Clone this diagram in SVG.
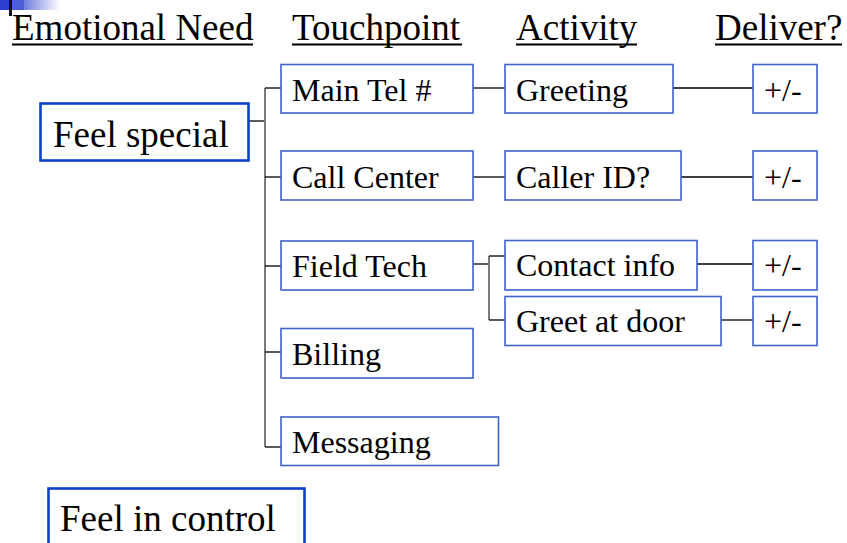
<svg xmlns="http://www.w3.org/2000/svg" width="847" height="543" viewBox="0 0 847 543">
<defs>
<linearGradient id="lg" x1="0" y1="0" x2="1" y2="0">
<stop offset="0" stop-color="#6f7fe0"/>
<stop offset="1" stop-color="#ffffff"/>
</linearGradient>
<style>
text{font-family:"Liberation Serif","Times New Roman",serif;fill:#000}
.h{font-size:37px}
.big{font-size:37px}
.t{font-size:32px}
.box{fill:#fff;stroke:#3f62c8;stroke-width:1.6}
.main{fill:#fff;stroke:#0a3fcf;stroke-width:2.6}
.c{stroke:#000;stroke-width:1.3;fill:none}
.v{stroke:#7a7a7a;stroke-width:2;fill:none}
.u{stroke:#000;stroke-width:2}
</style>
</defs>
<g id="logo">
<rect x="0" y="0" width="12" height="10" fill="#2b3fd0"/>
<rect x="12" y="0" width="12" height="10" fill="#4c5fd8"/>
<rect x="24" y="0" width="36" height="10" fill="url(#lg)"/>
<rect x="9" y="0" width="3" height="16" fill="#111"/>
</g>
<g id="headers">
<text class="h" x="12" y="40">Emotional Need</text>
<line class="u" x1="12" y1="44.5" x2="253" y2="44.5"/>
<text class="h" x="292" y="40">Touchpoint</text>
<line class="u" x1="292" y1="44.5" x2="462" y2="44.5"/>
<text class="h" x="516" y="40">Activity</text>
<line class="u" x1="516" y1="44.5" x2="637" y2="44.5"/>
<text class="h" x="715" y="40">Deliver?</text>
<line class="u" x1="715" y1="44.5" x2="842" y2="44.5"/>
</g>
<g id="connectors">
<line class="c" x1="249" y1="121" x2="265" y2="121"/>
<line class="v" x1="265" y1="88" x2="265" y2="447"/>
<line class="c" x1="265" y1="88" x2="281" y2="88"/>
<line class="c" x1="265" y1="177" x2="281" y2="177"/>
<line class="c" x1="265" y1="266" x2="281" y2="266"/>
<line class="c" x1="265" y1="352" x2="281" y2="352"/>
<line class="c" x1="265" y1="447" x2="281" y2="447"/>
<line class="c" x1="473" y1="88" x2="505" y2="88"/>
<line class="c" x1="473" y1="177" x2="505" y2="177"/>
<line class="c" x1="473" y1="264" x2="489" y2="264"/>
<line class="v" x1="489" y1="256" x2="489" y2="320"/>
<line class="c" x1="489" y1="256" x2="505" y2="256"/>
<line class="c" x1="489" y1="320" x2="505" y2="320"/>
<line class="c" x1="673" y1="88" x2="753" y2="88"/>
<line class="c" x1="681" y1="177" x2="753" y2="177"/>
<line class="c" x1="697" y1="264" x2="753" y2="264"/>
<line class="c" x1="721" y1="320" x2="753" y2="320"/>
</g>
<g id="feel-special">
<rect class="main" x="40.5" y="103.5" width="208" height="57"/>
<text class="big" x="53" y="147">Feel special</text>
</g>
<g id="main-tel">
<rect class="box" x="281" y="64.5" width="192" height="48.5"/>
<text class="t" x="292" y="101">Main Tel #</text>
</g>
<g id="call-center">
<rect class="box" x="281" y="151" width="192" height="49"/>
<text class="t" x="292" y="188">Call Center</text>
</g>
<g id="field-tech">
<rect class="box" x="281" y="241" width="192" height="49"/>
<text class="t" x="292" y="277">Field Tech</text>
</g>
<g id="billing">
<rect class="box" x="281" y="328.5" width="192" height="49.5"/>
<text class="t" x="292" y="365">Billing</text>
</g>
<g id="messaging">
<rect class="box" x="281" y="417" width="217.5" height="48.5"/>
<text class="t" x="292" y="453">Messaging</text>
</g>
<g id="greeting">
<rect class="box" x="505" y="64.5" width="168" height="48.5"/>
<text class="t" x="516" y="101">Greeting</text>
</g>
<g id="caller-id">
<rect class="box" x="505" y="151" width="176" height="49"/>
<text class="t" x="516" y="188">Caller ID?</text>
</g>
<g id="contact-info">
<rect class="box" x="505" y="240.5" width="192" height="49.5"/>
<text class="t" x="516" y="276">Contact info</text>
</g>
<g id="greet-at-door">
<rect class="box" x="505" y="296.5" width="216" height="49"/>
<text class="t" x="516" y="332">Greet at door</text>
</g>
<g id="deliver-1">
<rect class="box" x="753" y="64.5" width="64" height="48.5"/>
<text class="t" x="764" y="101">+/-</text>
</g>
<g id="deliver-2">
<rect class="box" x="753" y="151" width="64" height="49"/>
<text class="t" x="764" y="188">+/-</text>
</g>
<g id="deliver-3">
<rect class="box" x="753" y="240.5" width="64" height="49.5"/>
<text class="t" x="764" y="276">+/-</text>
</g>
<g id="deliver-4">
<rect class="box" x="753" y="296.5" width="64" height="49"/>
<text class="t" x="764" y="332">+/-</text>
</g>
<g id="feel-in-control">
<rect class="main" x="48.5" y="488.5" width="256" height="60"/>
<text class="big" x="60" y="531">Feel in control</text>
</g>
</svg>
